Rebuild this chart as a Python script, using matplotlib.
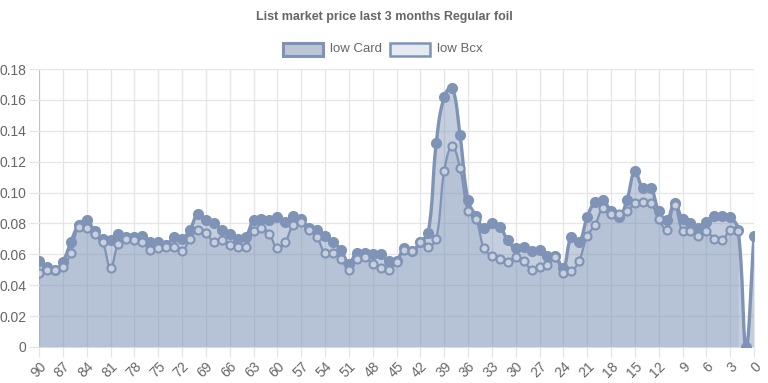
import numpy as np
import matplotlib
matplotlib.use('Agg')
import matplotlib.pyplot as plt
from matplotlib.patches import Rectangle

# DAYS AGO (X AXIS), FROM 90 DOWN TO 0
days = list(range(90, -1, -1))

# LOW CARD PRICE PER DAY
low_card = [0.056, 0.052, 0.050, 0.055, 0.068, 0.079, 0.082, 0.075, 0.070, 0.069,
            0.073, 0.071, 0.071, 0.072, 0.068, 0.068, 0.066, 0.071, 0.070, 0.076,
            0.086, 0.082, 0.080, 0.076, 0.073, 0.070, 0.071, 0.082, 0.083, 0.082,
            0.084, 0.081, 0.085, 0.083, 0.077, 0.076, 0.072, 0.068, 0.063, 0.054,
            0.061, 0.061, 0.060, 0.060, 0.056, 0.056, 0.064, 0.062, 0.068, 0.074,
            0.132, 0.162, 0.168, 0.137, 0.095, 0.085, 0.077, 0.080, 0.078, 0.069,
            0.064, 0.065, 0.062, 0.063, 0.059, 0.059, 0.051, 0.071, 0.068, 0.084,
            0.094, 0.095, 0.088, 0.084, 0.095, 0.114, 0.103, 0.103, 0.088, 0.082,
            0.093, 0.083, 0.080, 0.077, 0.081, 0.085, 0.085, 0.084, 0.076, 0.000,
            0.072]

# LOW BCX PRICE PER DAY (NO DATA FOR THE LAST TWO DAYS)
low_bcx = [0.048, 0.050, 0.050, 0.052, 0.061, 0.078, 0.077, 0.073, 0.068, 0.051,
           0.067, 0.070, 0.069, 0.068, 0.063, 0.064, 0.065, 0.065, 0.062, 0.070,
           0.076, 0.074, 0.068, 0.069, 0.066, 0.065, 0.065, 0.075, 0.077, 0.073,
           0.064, 0.068, 0.079, 0.081, 0.076, 0.071, 0.061, 0.061, 0.057, 0.050,
           0.057, 0.058, 0.054, 0.051, 0.050, 0.055, 0.063, 0.062, 0.068, 0.065,
           0.070, 0.114, 0.130, 0.116, 0.088, 0.083, 0.064, 0.059, 0.057, 0.055,
           0.058, 0.056, 0.050, 0.052, 0.053, 0.058, 0.048, 0.049, 0.056, 0.072,
           0.079, 0.090, 0.086, 0.086, 0.088, 0.093, 0.094, 0.093, 0.083, 0.076,
           0.092, 0.075, 0.075, 0.072, 0.075, 0.070, 0.069, 0.076, 0.075, None,
           None]

y_ticks = [0, 0.02, 0.04, 0.06, 0.08, 0.10, 0.12, 0.14, 0.16, 0.18]
y_tick_labels = ['0', '0.02', '0.04', '0.06', '0.08', '0.10', '0.12', '0.14', '0.16', '0.18']

LINE = '#7e93b6'
GRID = '#e5e5e5'
ZERO = '#c0c0c0'
TXT = '#666666'

plt.rcParams['font.family'] = ['Liberation Sans', 'DejaVu Sans']


def spline_curve(xs, ys, tension=0.4, sx=7.944, sy=1541.0, samples=16):
    # SAME SPLINE AS CHART.JS (TENSION 0.4), COMPUTED IN PIXEL-LIKE UNITS
    px = np.asarray(xs, float) * sx
    py = np.asarray(ys, float) * sy
    n = len(px)
    cp_prev = np.zeros((n, 2))
    cp_next = np.zeros((n, 2))
    for i in range(n):
        p = max(i - 1, 0)
        q = min(i + 1, n - 1)
        d01 = np.hypot(px[i] - px[p], py[i] - py[p])
        d12 = np.hypot(px[q] - px[i], py[q] - py[i])
        tot = d01 + d12
        s01 = d01 / tot if tot > 0 else 0
        s12 = d12 / tot if tot > 0 else 0
        fa = tension * s01
        fb = tension * s12
        cp_prev[i] = [px[i] - fa * (px[q] - px[p]), py[i] - fa * (py[q] - py[p])]
        cp_next[i] = [px[i] + fb * (px[q] - px[p]), py[i] + fb * (py[q] - py[p])]
    t = np.linspace(0, 1, samples)[:, None]
    out = []
    for i in range(n - 1):
        p0 = np.array([px[i], py[i]])
        p3 = np.array([px[i + 1], py[i + 1]])
        p1 = cp_next[i]
        p2 = cp_prev[i + 1]
        seg = ((1 - t) ** 3) * p0 + 3 * ((1 - t) ** 2) * t * p1 + 3 * (1 - t) * t ** 2 * p2 + t ** 3 * p3
        out.append(seg if i == 0 else seg[1:])
    out = np.vstack(out)
    return out[:, 0] / sx, out[:, 1] / sy


fig = plt.figure(figsize=(7.68, 3.83), dpi=100)
ax = fig.add_axes([39 / 768, 1 - 347 / 383, (754 - 39) / 768, (347 - 69) / 383])

x_idx = np.arange(len(days))
card = np.array(low_card, dtype=float)
bcx = np.array([np.nan if v is None else v for v in low_bcx], dtype=float)
ok = ~np.isnan(bcx)

cx, cy = spline_curve(x_idx, card)
bx, by = spline_curve(x_idx[ok], bcx[ok])

ax.fill_between(cx, 0, cy, color=LINE, alpha=0.45, lw=0, zorder=1)
ax.fill_between(bx, 0, by, color=LINE, alpha=0.2, lw=0, zorder=1)

ax.plot(cx, cy, color=LINE, lw=2.4, zorder=3, solid_capstyle='round')
ax.plot(x_idx, card, 'o', ms=6.5, mfc=LINE, mec=LINE, mew=1.5, zorder=4)
ax.plot(bx, by, color=LINE, lw=1.6, zorder=3)
ax.plot(x_idx[ok], bcx[ok], 'o', ms=5.8, mfc='#c8d0de', mec=LINE, mew=1.5, zorder=4)

ax.set_xlim(0, len(days) - 1)
ax.set_ylim(0, 0.18)

# GRID LIKE CHART.JS
tick_pos = x_idx[::3]
ax.set_xticks(tick_pos)
ax.set_xticklabels([str(d) for d in days[::3]], rotation=45, ha='right',
                   rotation_mode='anchor', color=TXT, fontsize=10)
ax.set_yticks(y_ticks)
ax.set_yticklabels(y_tick_labels, color=TXT, fontsize=10)
for xp in tick_pos:
    ax.axvline(xp, color=ZERO if xp == 0 else GRID, lw=0.9, zorder=0)
for yp in y_ticks:
    ax.axhline(yp, color=ZERO if yp == 0 else GRID, lw=0.9, zorder=0 if yp else 2)
ax.tick_params(axis='both', length=7, color=GRID, width=0.9, pad=2)
for s in ax.spines.values():
    s.set_visible(False)

fig.text(0.5, 1 - 17 / 383, 'List market price last 3 months Regular foil',
         ha='center', va='center', fontsize=9, fontweight='bold', color=TXT)

# LEGEND BOXES
fig.add_artist(Rectangle((283 / 768, 1 - 56 / 383), 40 / 768, 13 / 383, transform=fig.transFigure,
                         facecolor='#bcc6d6', edgecolor=LINE, lw=2.2))
fig.text(330 / 768, 1 - 49 / 383, 'low Card', ha='left', va='center', fontsize=9.5, color=TXT)
fig.add_artist(Rectangle((390 / 768, 1 - 56 / 383), 40 / 768, 13 / 383, transform=fig.transFigure,
                         facecolor='#e5e9f0', edgecolor=LINE, lw=1.8))
fig.text(437 / 768, 1 - 49 / 383, 'low Bcx', ha='left', va='center', fontsize=9.5, color=TXT)

fig.savefig('out.png', dpi=100)
